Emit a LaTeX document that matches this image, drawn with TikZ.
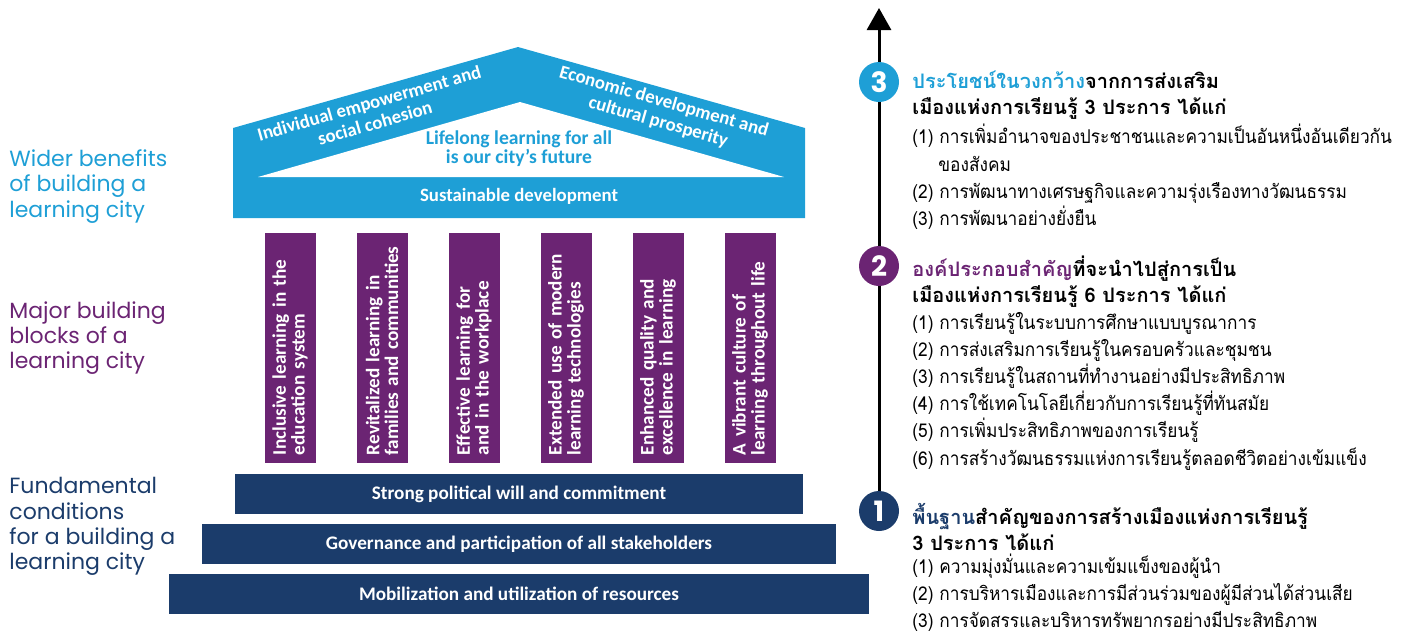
\documentclass[tikz,border=0pt]{standalone}
\usepackage{fontspec}
\setmainfont{Carlito}
\newfontfamily\thaifont[Script=Thai, FakeStretch=0.91]{Loma}
\newfontfamily\thaihead[Script=Thai]{Loma}
\newfontfamily\labelfont{Poppins}
\usetikzlibrary{arrows.meta}

\definecolor{cityblue}{HTML}{1E9FD6}
\definecolor{citypurple}{HTML}{6B2473}
\definecolor{citynavy}{HTML}{1B3C6B}

\tikzset{
  rooftext/.style={text=white, font=\bfseries\fontsize{9.4}{10.4}\selectfont, align=center, inner sep=0pt},
  pillar/.style={fill=citypurple, text=white, rotate=90, minimum width=115pt, minimum height=25.5pt,
    inner sep=0pt, text width=107pt, align=left, font=\bfseries\fontsize{9.6}{9.4}\selectfont},
  footing/.style={fill=citynavy, text=white, minimum height=20pt, inner sep=0pt,
    font=\bfseries\fontsize{9.6}{10}\selectfont},
  sidelabel/.style={anchor=north west, align=left, inner sep=0pt, font=\labelfont\fontsize{11}{12.7}\selectfont},
  num/.style={circle, minimum size=20pt, inner sep=0pt, text=white, font=\labelfont\bfseries\fontsize{14}{14}\selectfont},
  axisline/.style={line width=1.5pt},
  thaititle/.style={anchor=west, align=left, inner sep=0pt, font=\thaihead\bfseries\fontsize{10}{13}\selectfont},
  thaiitem/.style={anchor=west, align=left, inner sep=0pt, font=\thaifont\fontsize{9.5}{13.6}\selectfont}
}

\begin{document}
\begin{tikzpicture}[x=0.5pt,y=-0.5pt]
  \useasboundingbox (0,0) rectangle (1408,634);

  % roof
  \fill[cityblue] (233,128) -- (518,47) -- (805,128) -- (805,218) -- (233,218) -- cycle;
  \fill[white] (258,177) -- (520,102) -- (784,177) -- cycle;
  \node[rooftext, rotate=16] (rleft) at (372,113) {Individual empowerment and\\social cohesion};
  \node[rooftext, rotate=-16] (rright) at (661,112) {Economic development and\\cultural prosperity};
  \node[rooftext, text=cityblue, font=\bfseries\fontsize{9.8}{9.4}\selectfont] (motto) at (519,149) {Lifelong learning for all\\is our city's future};
  \node[rooftext] (sust) at (519,196) {Sustainable development};

  % pillars
  \node[pillar] (p1) at (290,348) {Inclusive learning in the\\education system};
  \node[pillar] (p2) at (382,348) {Revitalized learning in\\families and communities};
  \node[pillar] (p3) at (474,348) {Effective learning for\\and in the workplace};
  \node[pillar] (p4) at (566,348) {Extended use of modern\\learning technologies};
  \node[pillar] (p5) at (658,348) {Enhanced quality and\\excellence in learning};
  \node[pillar] (p6) at (750,348) {A vibrant culture of\\learning throughout life};

  % foundations
  \node[footing, minimum width=284pt] (f1) at (519,494) {Strong political will and commitment};
  \node[footing, minimum width=317pt] (f2) at (519,544) {Governance and participation of all stakeholders};
  \node[footing, minimum width=350pt] (f3) at (519,594) {Mobilization and utilization of resources};

  % left labels
  \node[sidelabel, text=cityblue] (wider) at (9,149) {Wider benefits\\of building a\\learning city};
  \node[sidelabel, text=citypurple] (major) at (9,301) {Major building\\blocks of a\\learning city};
  \node[sidelabel, text=citynavy] (fund) at (9,477) {Fundamental\\conditions\\for a building a\\learning city};

  % right axis
  \node[num, fill=cityblue] (c3) at (879,82) {3};
  \node[num, fill=citypurple] (c2) at (879,266) {2};
  \node[num, fill=citynavy] (c1) at (879,511) {1};
  \coordinate (tip) at (879,8);
  \draw[axisline] (c1) -- (c2) (c2) -- (c3);
  \draw[axisline, -{Triangle[width=12pt, length=11pt]}] (c3) -- (tip);

  % thai text
  \node[thaititle] (t3) at (912,95) {{\color{cityblue}ประโยชน์ในวงกว้าง}จากการส่งเสริม\\เมืองแห่งการเรียนรู้ 3 ประการ ได้แก่};
  \node[thaiitem] (l3) at (912,177) {(1) การเพิ่มอำนาจของประชาชนและความเป็นอันหนึ่งอันเดียวกัน\\\hspace*{13pt}ของสังคม\\(2) การพัฒนาทางเศรษฐกิจและความรุ่งเรืองทางวัฒนธรรม\\(3) การพัฒนาอย่างยั่งยืน};

  \node[thaititle] (t2) at (912,282) {{\color{citypurple}องค์ประกอบสำคัญ}ที่จะนำไปสู่การเป็น\\เมืองแห่งการเรียนรู้ 6 ประการ ได้แก่};
  \node[thaiitem] (l2) at (912,391) {(1) การเรียนรู้ในระบบการศึกษาแบบบูรณาการ\\(2) การส่งเสริมการเรียนรู้ในครอบครัวและชุมชน\\(3) การเรียนรู้ในสถานที่ทำงานอย่างมีประสิทธิภาพ\\(4) การใช้เทคโนโลยีเกี่ยวกับการเรียนรู้ที่ทันสมัย\\(5) การเพิ่มประสิทธิภาพของการเรียนรู้\\(6) การสร้างวัฒนธรรมแห่งการเรียนรู้ตลอดชีวิตอย่างเข้มแข็ง};

  \node[thaititle] (t1) at (912,527) {{\color{citynavy}พื้นฐาน}สำคัญของการสร้างเมืองแห่งการเรียนรู้\\3 ประการ ได้แก่};
  \node[thaiitem] (l1) at (912,593) {(1) ความมุ่งมั่นและความเข้มแข็งของผู้นำ\\(2) การบริหารเมืองและการมีส่วนร่วมของผู้มีส่วนได้ส่วนเสีย\\(3) การจัดสรรและบริหารทรัพยากรอย่างมีประสิทธิภาพ};
\end{tikzpicture}
\end{document}
